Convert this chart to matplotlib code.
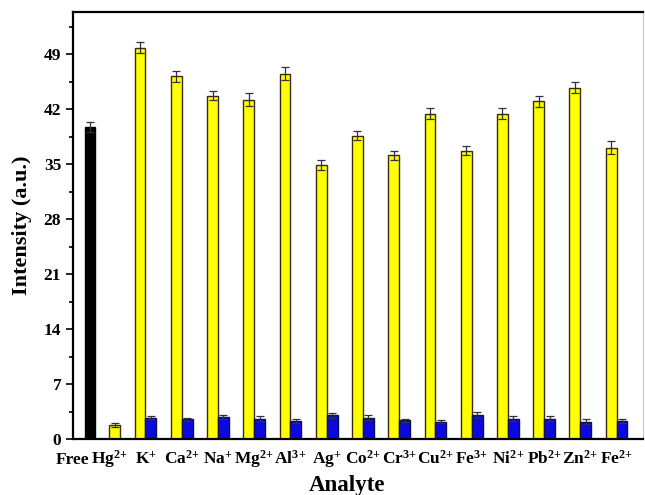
import numpy as np
import matplotlib
matplotlib.use("Agg")
import matplotlib.pyplot as plt
from matplotlib.ticker import MultipleLocator

plt.rcParams["font.family"] = ["Liberation Serif", "DejaVu Serif"]
plt.rcParams["font.weight"] = "bold"
plt.rcParams["mathtext.fontset"] = "custom"
plt.rcParams["mathtext.rm"] = "Liberation Serif:bold"
plt.rcParams["mathtext.default"] = "rm"

# analytes along the x axis
analytes = ["Free", r"Hg$^{2\!+}$", "K$^{+}$", r"Ca$^{2\!+}$", "Na$^{+}$", r"Mg$^{2\!+}$",
            r"Al$^{3\!+}$", "Ag$^{+}$", r"Co$^{2\!+}$", r"Cr$^{3\!+}$", r"Cu$^{2\!+}$",
            r"Fe$^{3\!+}$", r"Ni$^{2\!+}$", r"Pb$^{2\!+}$", r"Zn$^{2\!+}$", r"Fe$^{2\!+}$"]

# probe alone
free_val = 39.7
free_err = 0.6

# probe + metal ion (yellow), Hg2+ first
ion_vals = [1.8, 49.8, 46.2, 43.7, 43.2, 46.5, 34.9, 38.6, 36.1, 41.4,
            36.7, 41.4, 43.0, 44.7, 37.1]
ion_errs = [0.3, 0.7, 0.7, 0.6, 0.8, 0.8, 0.6, 0.6, 0.6, 0.7,
            0.6, 0.7, 0.7, 0.7, 0.8]

# probe + metal ion + Hg2+ (blue), K+ onwards
mix_vals = [2.7, 2.5, 2.8, 2.6, 2.3, 3.0, 2.7, 2.4, 2.2, 3.1, 2.6, 2.6, 2.2, 2.3]
mix_errs = [0.2, 0.2, 0.2, 0.3, 0.2, 0.3, 0.3, 0.2, 0.2, 0.4, 0.3, 0.3, 0.3, 0.3]

bw = 0.30
idx = np.arange(len(analytes))
free_x = idx[0] + 0.47
ion_x = idx[1:] - bw / 2
ion_x[0] = idx[1] + 0.15
mix_x = idx[2:] + bw / 2

fig = plt.figure(figsize=(6.45, 4.95), dpi=100)
ax = fig.add_axes([0.1132, 0.1131, 0.8838, 0.8627])

err_kw = dict(ecolor="#303040", elinewidth=0.9, capsize=3.2, capthick=0.9)
ax.bar(free_x, free_val, bw, color="black", edgecolor="black",
       yerr=free_err, error_kw=err_kw, zorder=2)
ax.bar(ion_x, ion_vals, bw, color="#ffff00", edgecolor="#3a2a10",
       linewidth=1.0, yerr=ion_errs, error_kw=err_kw, zorder=2)
ax.bar(mix_x, mix_vals, bw, color="#0a0ae0", edgecolor="#10104a",
       linewidth=1.0, yerr=mix_errs, error_kw=err_kw, zorder=2)

ax.set_xlim(0, 15.73)
ax.set_ylim(0, 54.35)
ax.set_xticks(idx)
ax.set_xticklabels(analytes, fontsize=12.5, fontweight="bold")
# put every label on a common baseline, superscripts or not
ax.tick_params(axis="x", length=0, pad=18)
for lab in ax.get_xticklabels():
    lab.set_verticalalignment("baseline")

ax.yaxis.set_major_locator(MultipleLocator(7))
ax.yaxis.set_minor_locator(MultipleLocator(3.5))
ax.tick_params(axis="y", which="major", length=5, width=1.2, labelsize=12.5, direction="out")
ax.tick_params(axis="y", which="minor", length=3, width=1.2, direction="out")
for lab in ax.get_yticklabels():
    lab.set_fontweight("bold")

for side in ("top", "left", "bottom"):
    ax.spines[side].set_linewidth(1.6)
ax.spines["right"].set_color("#c8c8c8")
ax.spines["right"].set_linewidth(0.8)

ax.set_ylabel("Intensity (a.u.)", fontsize=16, fontweight="bold", labelpad=8)
ax.set_xlabel("Analyte", fontsize=16.5, fontweight="bold", va="bottom")
ax.xaxis.set_label_coords(0.48, -0.134)

fig.savefig("out.png", dpi=100)
